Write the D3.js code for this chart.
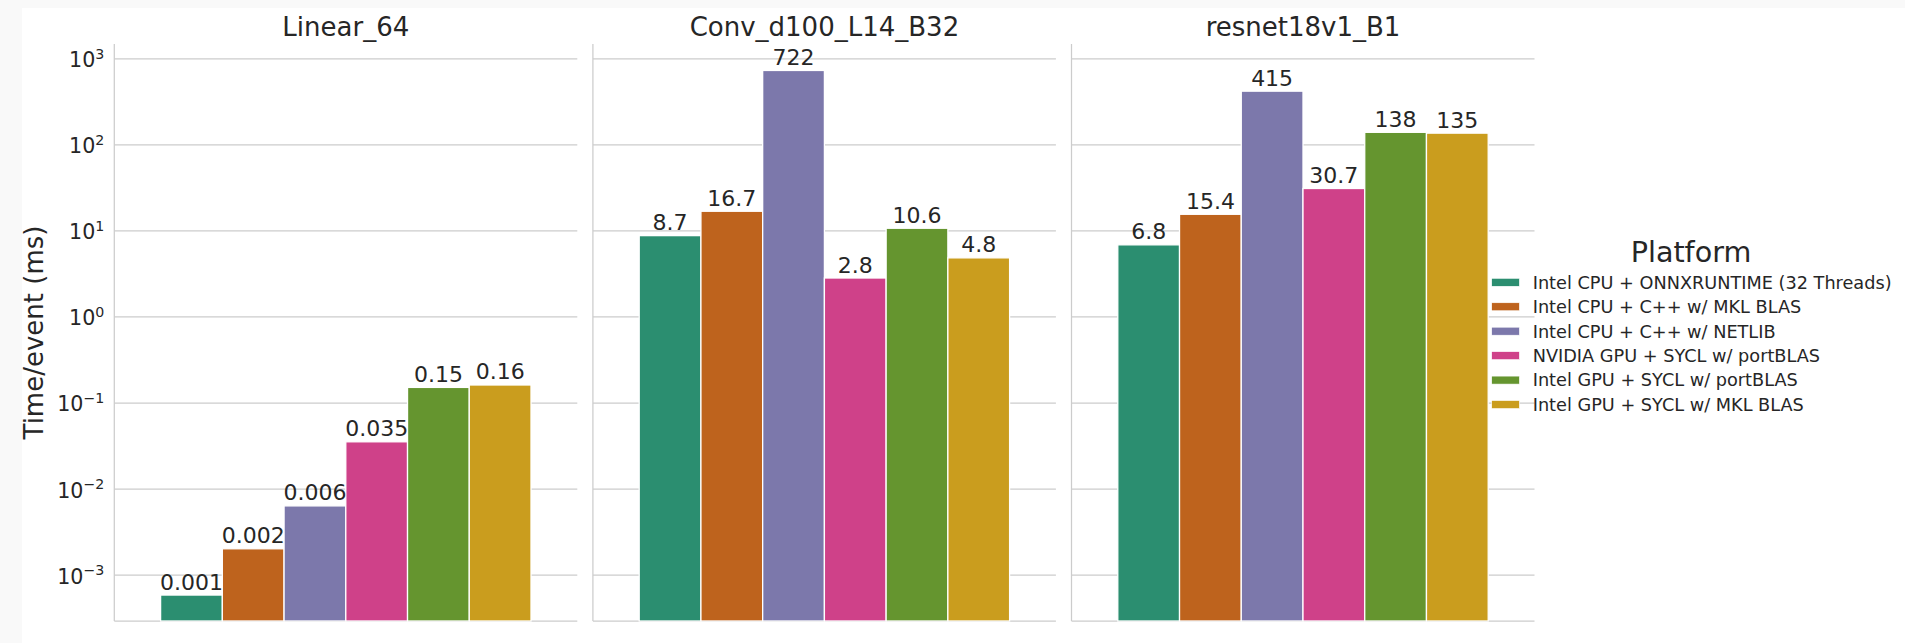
<!DOCTYPE html>
<html>
<head>
<meta charset="utf-8">
<script src="https://cdn.jsdelivr.net/npm/d3@7"></script>
<style>
  html, body { margin: 0; padding: 0; background: #f9f9f9; }
  svg { display: block; font-family: "DejaVu Sans", sans-serif; }
</style>
</head>
<body>
<svg id="chart" width="1905" height="643"></svg>
<script>
// Benchmark models, one facet each
const models = ["Linear_64", "Conv_d100_L14_B32", "resnet18v1_B1"];

// Hardware / software platforms (hue)
const platforms = [
  "Intel CPU + ONNXRUNTIME (32 Threads)",
  "Intel CPU + C++ w/ MKL BLAS",
  "Intel CPU + C++ w/ NETLIB",
  "NVIDIA GPU + SYCL w/ portBLAS",
  "Intel GPU + SYCL w/ portBLAS",
  "Intel GPU + SYCL w/ MKL BLAS"
];

// Time per event in ms, in platform order
const linear64Times = [0.00058, 0.002, 0.0063, 0.035, 0.15, 0.16];
const convTimes     = [8.7, 16.7, 722, 2.8, 10.6, 4.8];
const resnetTimes   = [6.8, 15.4, 415, 30.7, 138, 135];

// Log-axis decades
const yTickExponents = [-3, -2, -1, 0, 1, 2, 3];

const seriesByModel = [linear64Times, convTimes, resnetTimes];

// Dark2 palette, desaturated like seaborn bar fills
const palette = d3.schemeDark2.slice(0, 6).map(c => {
  const h = d3.hsl(c);
  h.s *= 0.75;
  return h.formatHex();
});
const color = d3.scaleOrdinal().domain(platforms).range(palette);

const textColor = "#262626";
const gridColor = "#cccccc";

const svg = d3.select("#chart");

// Figure canvas
svg.append("rect").attr("x", 0).attr("y", 0).attr("width", 1905).attr("height", 643).attr("fill", "#f9f9f9");
svg.append("rect").attr("x", 22).attr("y", 8).attr("width", 1905 - 22).attr("height", 643 - 8).attr("fill", "#ffffff");

const panelWidth = 463;
const panelLefts = [114.3, 592.9, 1071.5];
const plotTop = 44, plotBottom = 621;

const y = d3.scaleLog()
  .domain([Math.pow(10, -3.538), Math.pow(10, 3.166)])
  .range([plotBottom, plotTop]);

const labelFormat = v => v >= 100 ? d3.format(".0f")(v)
                       : v >= 1 ? d3.format(".1f")(v)
                       : d3.format(".3~f")(v);

models.forEach((model, i) => {
  const left = panelLefts[i];
  const values = seriesByModel[i];
  const rows = platforms.map((p, j) => ({ platform: p, value: values[j] }));

  const x = d3.scaleBand()
    .domain(platforms)
    .range([left, left + panelWidth])
    .paddingInner(0)
    .paddingOuter(0.75);

  const g = svg.append("g").attr("class", "facet");

  // horizontal grid
  const grid = g.append("g")
    .attr("transform", `translate(${left},0)`)
    .call(d3.axisLeft(y)
      .tickValues(yTickExponents.map(e => Math.pow(10, e)))
      .tickSize(-panelWidth)
      .tickFormat(""));
  grid.select(".domain").remove();
  grid.selectAll(".tick line").attr("stroke", gridColor).attr("stroke-width", 1.25);

  // spines (left and bottom)
  g.append("line")
    .attr("x1", left).attr("x2", left)
    .attr("y1", plotTop).attr("y2", plotBottom)
    .attr("stroke", gridColor).attr("stroke-width", 1.25);
  g.append("line")
    .attr("x1", left).attr("x2", left + panelWidth)
    .attr("y1", plotBottom).attr("y2", plotBottom)
    .attr("stroke", gridColor).attr("stroke-width", 1.25);

  // bars
  g.selectAll("rect.bar")
    .data(rows)
    .join("rect")
    .attr("class", "bar")
    .attr("x", d => x(d.platform))
    .attr("width", x.bandwidth())
    .attr("y", d => y(d.value))
    .attr("height", d => plotBottom - y(d.value))
    .attr("fill", d => color(d.platform))
    .attr("stroke", "#ffffff")
    .attr("stroke-width", 1.3);

  // value labels
  g.selectAll("text.value")
    .data(rows)
    .join("text")
    .attr("class", "value")
    .attr("x", d => x(d.platform) + x.bandwidth() / 2)
    .attr("y", d => y(d.value) - 5.5)
    .attr("text-anchor", "middle")
    .attr("font-size", 22)
    .attr("fill", textColor)
    .text(d => labelFormat(d.value));

  // facet title
  g.append("text")
    .attr("x", left + panelWidth / 2)
    .attr("y", 35.8)
    .attr("text-anchor", "middle")
    .attr("font-size", 26)
    .attr("fill", textColor)
    .text(model);

  // y tick labels only on the first facet
  if (i === 0) {
    const ax = g.append("g")
      .attr("transform", `translate(${left},0)`)
      .call(d3.axisLeft(y)
        .tickValues(yTickExponents.map(e => Math.pow(10, e)))
        .tickSize(0)
        .tickPadding(10)
        .tickFormat(""));
    ax.select(".domain").remove();
    ax.selectAll(".tick text").each(function(d) {
      const t = d3.select(this)
        .attr("dy", null)
        .attr("y", 8.4)
        .attr("fill", textColor)
        .attr("font-family", "DejaVu Sans, sans-serif")
        .attr("text-anchor", "end");
      const e = Math.round(Math.log10(d));
      t.append("tspan").attr("font-size", 20.6).text("10");
      t.append("tspan").attr("font-size", 14.2).attr("dy", -8.4)
        .text(e < 0 ? "\u2212" + Math.abs(e) : String(e));
    });

    g.append("text")
      .attr("transform", `translate(42.7,${(plotTop + plotBottom) / 2}) rotate(-90)`)
      .attr("text-anchor", "middle")
      .attr("font-size", 26)
      .attr("fill", textColor)
      .text("Time/event (ms)");
  }
});

// Legend
const legend = svg.append("g").attr("class", "legend");
legend.append("text")
  .attr("x", 1691)
  .attr("y", 261.7)
  .attr("text-anchor", "middle")
  .attr("font-size", 28.6)
  .attr("fill", textColor)
  .text("Platform");

const entry = legend.selectAll("g.entry")
  .data(platforms)
  .join("g")
  .attr("class", "entry")
  .attr("transform", (d, k) => `translate(0,${288.6 + k * 24.45})`);

entry.append("rect")
  .attr("x", 1491.7)
  .attr("y", -10.3)
  .attr("width", 27.7)
  .attr("height", 8)
  .attr("fill", d => color(d))
  .attr("stroke", "#ffffff")
  .attr("stroke-width", 0.6);

entry.append("text")
  .attr("x", 1532.7)
  .attr("y", 0)
  .attr("font-size", 17.7)
  .attr("fill", textColor)
  .text(d => d);
</script>
</body>
</html>
